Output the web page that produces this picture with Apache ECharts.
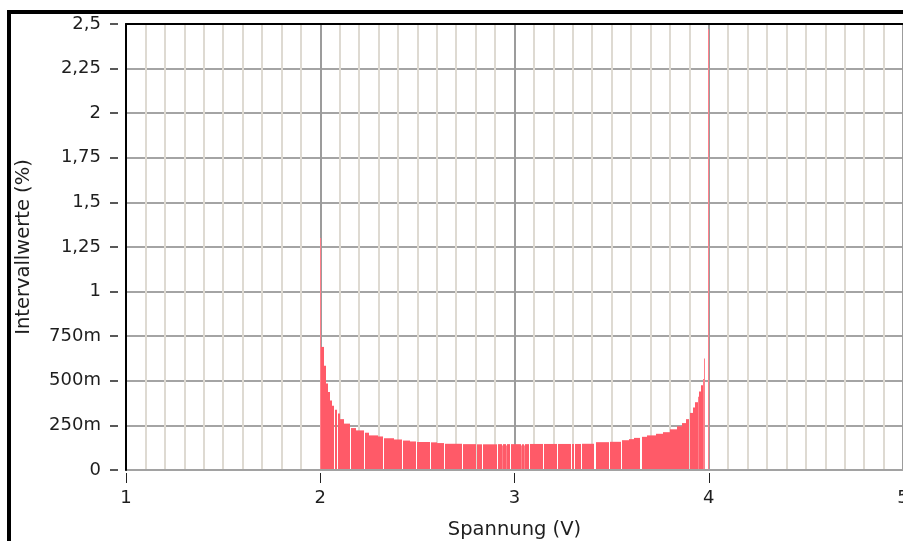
<!DOCTYPE html>
<html><head><meta charset="utf-8">
<script src="https://cdn.jsdelivr.net/npm/echarts@6/dist/echarts.min.js"></script>
<style>html,body{margin:0;padding:0;background:#fff}#c{width:903px;height:541px}</style>
</head><body><div id="c"></div>
<script>
// Tick labels
const xTickLabels = ['1', '2', '3', '4', '5'];
const yTickLabels = ['0', '250m', '500m', '750m', '1', '1,25', '1,5', '1,75', '2', '2,25', '2,5'];
const xTitle = 'Spannung (V)';
const yTitle = 'Intervallwerte (%)';

// Histogram bins (voltage, V) and interval values (%)
const binStart = [
  2.000, 2.004, 2.021, 2.030, 2.042, 2.052, 2.059, 2.077, 2.091, 2.104,
  2.124, 2.157, 2.184, 2.232, 2.253, 2.296, 2.330, 2.382, 2.425, 2.460,
  2.497, 2.570, 2.600, 2.642, 2.734, 2.809, 2.840, 2.913, 2.935, 2.940,
  2.955, 2.960, 2.982, 3.035, 3.040, 3.050, 3.055, 3.079, 3.153, 3.222,
  3.294, 3.311, 3.346, 3.417, 3.491, 3.552, 3.590, 3.617, 3.654, 3.680,
  3.731, 3.762, 3.803, 3.834, 3.860, 3.885, 3.903, 3.918, 3.931, 3.943,
  3.952, 3.961, 3.969, 3.974, 3.995
];
const binEnd = [
  2.004, 2.021, 2.030, 2.042, 2.052, 2.059, 2.069, 2.086, 2.104, 2.124,
  2.151, 2.184, 2.227, 2.253, 2.296, 2.325, 2.382, 2.420, 2.460, 2.492,
  2.564, 2.600, 2.636, 2.729, 2.804, 2.835, 2.908, 2.935, 2.940, 2.955,
  2.960, 2.976, 3.035, 3.040, 3.050, 3.055, 3.074, 3.148, 3.217, 3.289,
  3.306, 3.340, 3.411, 3.486, 3.546, 3.590, 3.617, 3.648, 3.680, 3.726,
  3.762, 3.798, 3.834, 3.860, 3.885, 3.898, 3.918, 3.931, 3.943, 3.952,
  3.961, 3.969, 3.974, 3.983, 4.000
];
const binValue = [
  1.300, 0.690, 0.585, 0.485, 0.437, 0.390, 0.360, 0.338, 0.317, 0.285,
  0.260, 0.235, 0.222, 0.209, 0.194, 0.188, 0.178, 0.171, 0.165, 0.160,
  0.157, 0.155, 0.151, 0.147, 0.145, 0.144, 0.144, 0.145, 0.137, 0.145,
  0.138, 0.145, 0.145, 0.137, 0.145, 0.138, 0.145, 0.146, 0.146, 0.146,
  0.146, 0.146, 0.147, 0.156, 0.158, 0.167, 0.173, 0.180, 0.186, 0.194,
  0.203, 0.212, 0.228, 0.245, 0.263, 0.285, 0.320, 0.350, 0.380, 0.410,
  0.440, 0.475, 0.510, 0.625, 2.470
];

const barColor = '#ff5a68';
const spikeColor = '#ff7f8a';
const font = 'DejaVu Sans';
const textColor = '#1e1e1e';

const data = binStart.map((s, i) => [s, binEnd[i], binValue[i]]);

const xScale = { type: 'value', min: 1, max: 5, interval: 1, gridIndex: 0 };
const yScale = { type: 'value', min: 0, max: 2.5, interval: 0.25, gridIndex: 0 };
const off = { show: false };

const chart = echarts.init(document.getElementById('c'), null, { renderer: 'canvas' });
chart.setOption({
  backgroundColor: '#ffffff',
  animation: false,
  grid: { left: 126, right: 0, top: 24, bottom: 71, containLabel: false, outerBoundsMode: 'none' },
  graphic: [{
    type: 'rect', z: 100, silent: true,
    shape: { x: 9, y: 12, width: 1200, height: 1200 },
    style: { fill: 'none', stroke: '#000', lineWidth: 4 }
  }],
  xAxis: [
    Object.assign({}, xScale, { // grid lines
      position: 'bottom', z: 0,
      axisLine: off, axisTick: off, axisLabel: off,
      splitLine: { show: true, lineStyle: { color: '#9c9c9c', width: 2 } },
      minorTick: { show: false, splitNumber: 10 },
      minorSplitLine: { show: true, lineStyle: { color: '#dedad2', width: 2 } }
    }),
    Object.assign({}, xScale, { // bottom axis line
      position: 'bottom', z: 5,
      axisLine: { show: true, onZero: false, lineStyle: { color: '#a2a2a2', width: 2 } },
      axisTick: off, axisLabel: off, splitLine: off
    }),
    Object.assign({}, xScale, { // ticks + labels
      position: 'bottom', offset: 3, z: 5,
      axisLine: { show: false, onZero: false },
      axisTick: { show: true, length: 10, lineStyle: { color: '#222', width: 1 } },
      axisLabel: {
        show: true, margin: 16, fontFamily: font, fontSize: 18, color: textColor,
        showMinLabel: true, showMaxLabel: true, hideOverlap: false,
        formatter: v => xTickLabels[Math.round(v - 1)]
      },
      splitLine: off,
      name: xTitle, nameLocation: 'middle', nameGap: 47,
      nameTextStyle: { fontFamily: font, fontSize: 19.5, color: textColor }
    }),
    Object.assign({}, xScale, { // top frame line
      position: 'top', z: 6,
      axisLine: { show: true, onZero: false, lineStyle: { color: '#000', width: 2 } },
      axisTick: off, axisLabel: off, splitLine: off
    })
  ],
  yAxis: [
    Object.assign({}, yScale, {
      position: 'left', z: 0,
      axisLine: off, axisTick: off, axisLabel: off,
      splitLine: { show: true, lineStyle: { color: '#a4a4a4', width: 2 } }
    }),
    Object.assign({}, yScale, {
      position: 'left', z: 6,
      axisLine: { show: true, onZero: false, lineStyle: { color: '#000', width: 2 } },
      axisTick: off, axisLabel: off, splitLine: off
    }),
    Object.assign({}, yScale, {
      position: 'left', offset: 8, z: 5,
      axisLine: { show: false, onZero: false },
      axisTick: { show: true, length: 8, lineStyle: { color: '#222', width: 1.5 } },
      axisLabel: {
        show: true, margin: 17, fontFamily: font, fontSize: 18, color: textColor,
        showMinLabel: true, showMaxLabel: true,
        formatter: v => yTickLabels[Math.round(v / 0.25)]
      },
      splitLine: off,
      name: yTitle, nameLocation: 'middle', nameRotate: 90, nameGap: 84,
      nameTextStyle: { fontFamily: font, fontSize: 19.5, color: textColor }
    })
  ],
  series: [{
    type: 'custom',
    xAxisIndex: 0, yAxisIndex: 0, z: 2,
    clip: true,
    encode: { x: [0, 1], y: 2 },
    data: data,
    renderItem: function (params, api) {
      const p0 = api.coord([api.value(0), api.value(2)]);
      const p1 = api.coord([api.value(1), 0]);
      const x0 = Math.round(p0[0]);
      let x1 = Math.round(p1[0]);
      if (x1 <= x0) x1 = x0 + 1;
      const thin = (x1 - x0) <= 1;
      return {
        type: 'rect',
        shape: { x: x0, y: p0[1], width: x1 - x0, height: p1[1] - p0[1] },
        style: { fill: thin ? spikeColor : barColor }
      };
    }
  }]
});
</script>
</body></html>
